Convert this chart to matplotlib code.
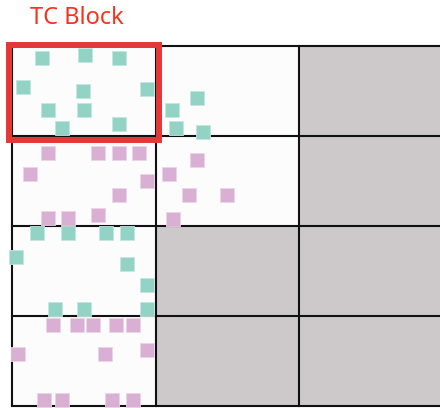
import matplotlib
matplotlib.use("Agg")
import matplotlib.pyplot as plt
from matplotlib.patches import Rectangle

# ── Palette ──────────────────────────────────────────────────────────────────
TEAL = "#93d3c6"
TEAL_EDGE = "#c2e8df"
PINK = "#d9b0d4"
PINK_EDGE = "#ecd3e8"
GRAY = "#cdc9ca"
WHITE = "#fdfcfd"
RED = "#e43838"
TITLE_RED = "#f5331f"

# ── Data (grid units: column, row) ───────────────────────────────────────────
N_COLS, N_ROWS = 3, 4
gray_cells = [(2, 0), (2, 1), (1, 2), (2, 2), (1, 3), (2, 3)]

teal_x = [0.206, 0.509, 0.746, 0.077, 0.495, 0.941, 0.251, 0.502, 0.348, 0.746,
          1.289, 1.115, 1.143, 1.331,
          0.174, 0.390, 0.655, 0.801, 0.028, 0.801, 0.941, 0.300, 0.502, 0.941]
teal_y = [0.133, 0.100, 0.133, 0.456, 0.500, 0.478, 0.711, 0.711, 0.911, 0.867,
          0.578, 0.711, 0.911, 0.956,
          2.078, 2.078, 2.078, 2.078, 2.344, 2.422, 2.656, 2.922, 2.922, 2.922]

pink_x = [0.251, 0.599, 0.746, 0.885, 0.125, 0.941, 0.746, 0.251, 0.390, 0.599,
          1.289, 1.094, 1.233, 1.498, 1.122,
          0.286, 0.453, 0.564, 0.725, 0.843, 0.042, 0.648, 0.941,
          0.223, 0.348, 0.697, 0.843]
pink_y = [1.189, 1.189, 1.189, 1.189, 1.422, 1.500, 1.656, 1.911, 1.911, 1.878,
          1.267, 1.422, 1.656, 1.656, 1.922,
          3.100, 3.100, 3.100, 3.100, 3.100, 3.422, 3.422, 3.378,
          3.933, 3.933, 3.933, 3.933]

# ── Figure: pixel layout of the grid ─────────────────────────────────────────
W, H = 440, 408
OX, OY = 12, 46          # top-left corner of grid (px)
CW, CH = 143.5, 90       # cell size (px)

fig = plt.figure(figsize=(W / 100, H / 100), dpi=100, facecolor="white")
ax = fig.add_axes([0, 0, 1, 1])
ax.set_xlim(-OX / CW, (W - OX) / CW)
ax.set_ylim((H - OY) / CH, -OY / CH)
ax.axis("off")

# cells
for c in range(N_COLS):
    for r in range(N_ROWS):
        fc = GRAY if (c, r) in gray_cells else WHITE
        ax.add_patch(Rectangle((c, r), 1, 1, facecolor=fc, edgecolor="none", zorder=1))

# grid lines
for c in range(N_COLS + 1):
    ax.plot([c, c], [0, N_ROWS], color="#111111", lw=1.5, zorder=2)
for r in range(N_ROWS + 1):
    ax.plot([0, N_COLS], [r, r], color="#111111", lw=1.5, zorder=2)

# squares
ax.scatter(teal_x, teal_y, marker="s", s=100, c=TEAL, edgecolors=TEAL_EDGE,
           linewidths=0.6, zorder=3)
ax.scatter(pink_x, pink_y, marker="s", s=100, c=PINK, edgecolors=PINK_EDGE,
           linewidths=0.6, zorder=3)

# TC block highlight
ax.add_patch(Rectangle((-3 / CW, -1 / CH), 1 + 6 / CW, 1 + 5 / CH, fill=False,
                       edgecolor=RED, lw=4.3, zorder=4))
ax.text(0.45, -0.31, "TC Block", color=TITLE_RED, fontsize=17,
        family="Noto Sans", ha="center", va="center", zorder=5)

fig.savefig("out.png", dpi=100, facecolor="white")
